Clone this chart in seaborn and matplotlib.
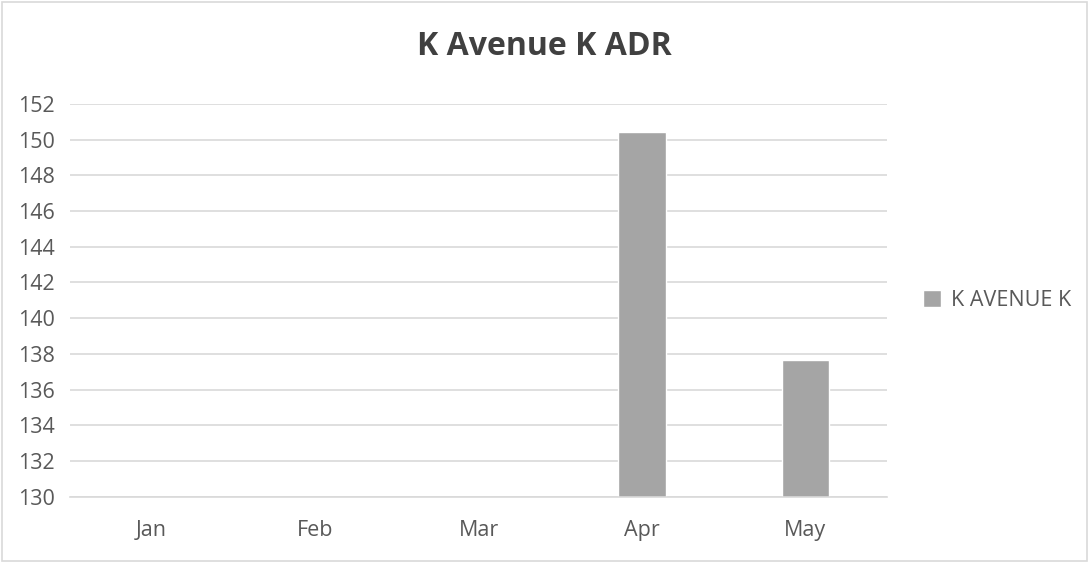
import pandas as pd
import seaborn as sns
import matplotlib.pyplot as plt
from matplotlib.patches import Rectangle

# Data
months = ["Jan", "Feb", "Mar", "Apr", "May"]
adr = [0, 0, 0, 150.42, 137.65]
series_name = "K AVENUE K"

df = pd.DataFrame({"Month": months, "ADR": adr, "Series": series_name})

sns.set_style("white")
plt.rcParams["font.family"] = ["Open Sans", "DejaVu Sans"]

text_color = "#595959"
grid_color = "#d9d9d9"
bar_color = "#a5a5a5"

fig = plt.figure(figsize=(10.89, 5.63), dpi=100)
ax = fig.add_axes([0.0643, 0.1178, 0.7502, 0.6975])

sns.barplot(
    data=df,
    x="Month",
    y="ADR",
    hue="Series",
    palette=[bar_color],
    width=0.29,
    saturation=1,
    ax=ax,
)

ax.set_ylim(130, 152)
ax.set_yticks(range(130, 153, 2))
ax.set_xlim(-0.5, len(months) - 0.5)
ax.yaxis.grid(True, color=grid_color, linewidth=1.2)
ax.set_axisbelow(True)
for side in ["top", "right", "left"]:
    ax.spines[side].set_visible(False)
ax.spines["bottom"].set_color(grid_color)
ax.spines["bottom"].set_linewidth(1.2)
ax.tick_params(axis="both", length=0, labelsize=15.5, colors=text_color)
ax.tick_params(axis="x", pad=17)
ax.tick_params(axis="y", pad=11)
ax.set_xlabel("")
ax.set_ylabel("")

leg = ax.legend(
    loc="center left",
    bbox_to_anchor=(1.02, 0.5),
    frameon=False,
    fontsize=15.5,
    handlelength=0.85,
    handleheight=0.85,
    handletextpad=0.45,
)
for t in leg.get_texts():
    t.set_color(text_color)

fig.text(0.5, 0.918, "K Avenue K ADR", ha="center", va="center",
         fontsize=23, fontweight="bold", color="#404040")

fig.patches.append(Rectangle((0.002, 0.003), 0.996, 0.994, transform=fig.transFigure,
                             fill=False, edgecolor="#d9d9d9", linewidth=1.2))

plt.savefig("out.png", dpi=100)
